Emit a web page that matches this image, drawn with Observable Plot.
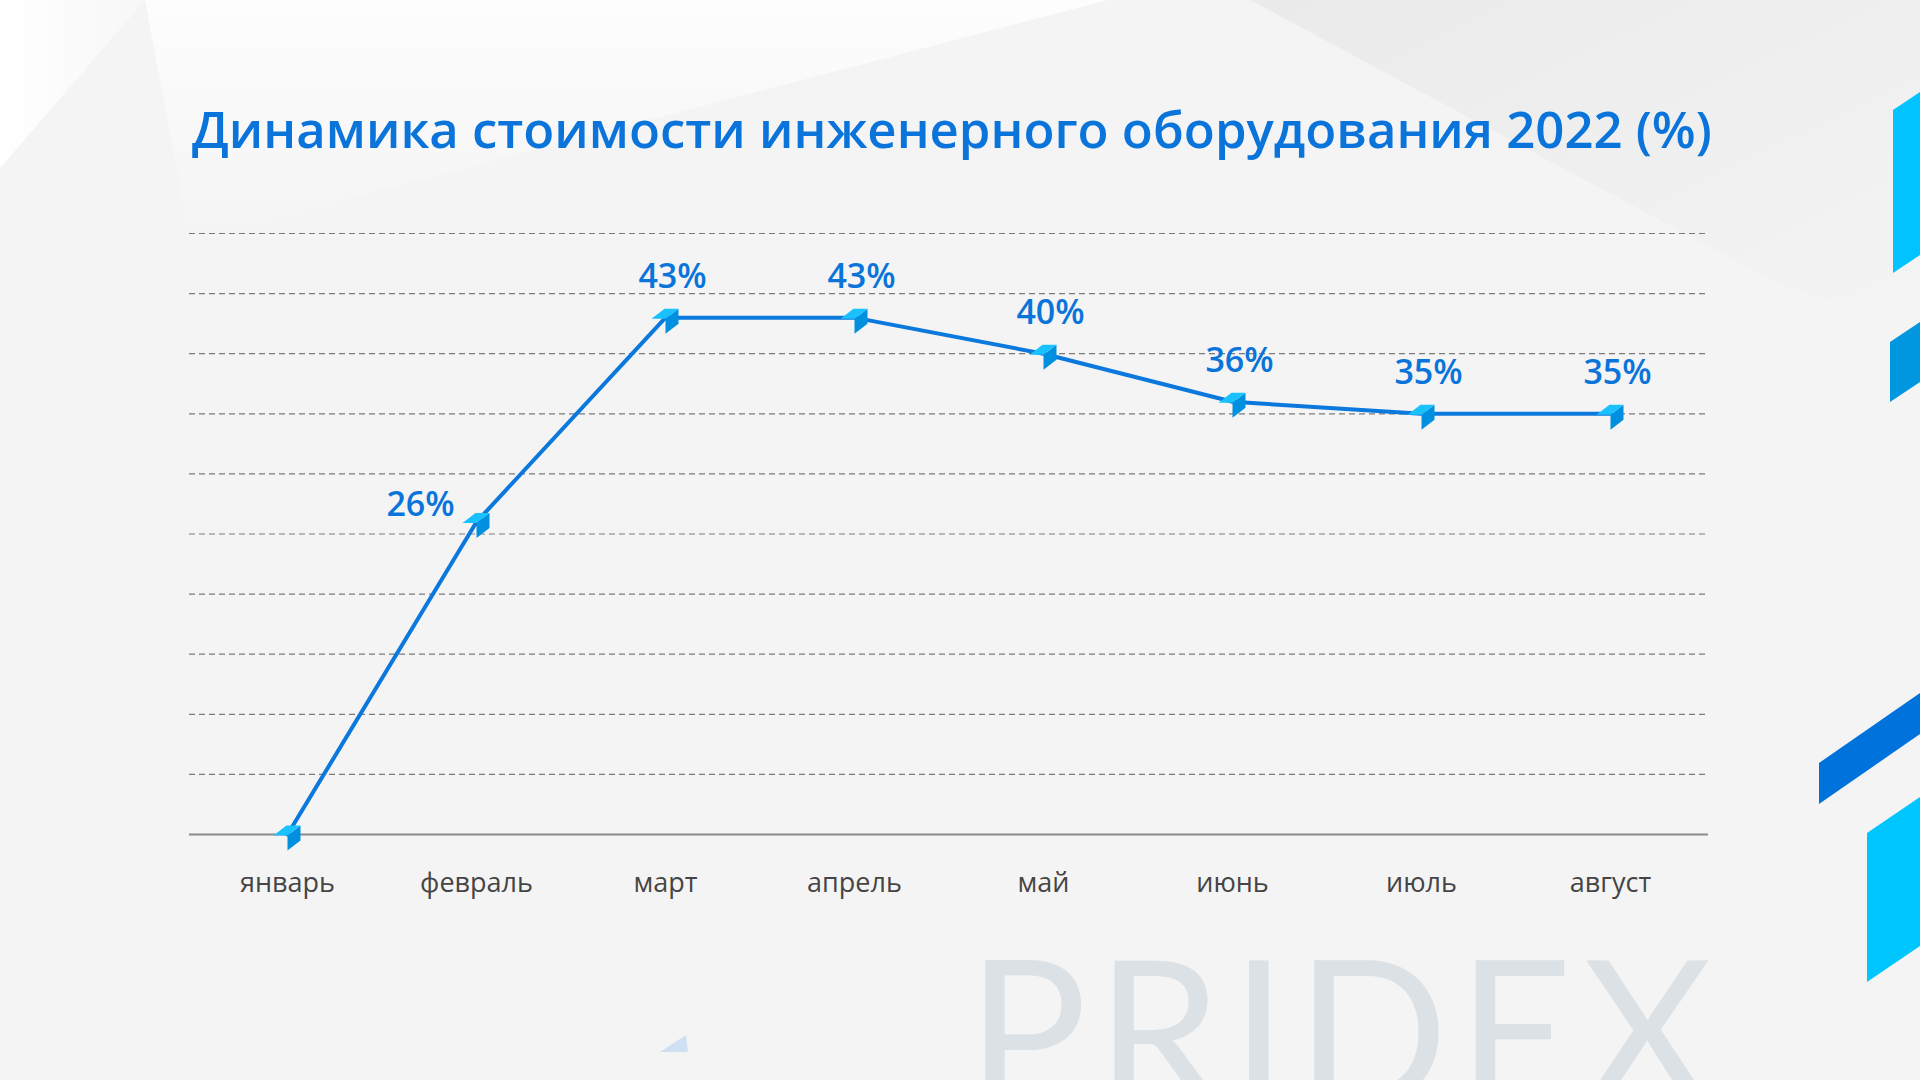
<!DOCTYPE html>
<html>
<head>
<meta charset="utf-8">
<script src="https://cdn.jsdelivr.net/npm/d3@7"></script>
<script src="https://cdn.jsdelivr.net/npm/@observablehq/plot@0.6"></script>
<style>
  html, body { margin: 0; padding: 0; }
  body { width: 1920px; height: 1080px; overflow: hidden; background: #f4f4f4; position: relative; font-family: "Open Sans", sans-serif; }
  #bg { position: absolute; left: 0; top: 0; }
  #title { position: absolute; left: 192px; top: 97px; margin: 0; font: 600 58px "Open Sans", sans-serif; line-height: 1; color: #0a74da; white-space: nowrap; display: inline-block; }
  #chart { position: absolute; left: 0; top: 180px; }
</style>
</head>
<body>
<svg id="bg" width="1920" height="1080" viewBox="0 0 1920 1080">
  <defs>
    <linearGradient id="gl" x1="0" y1="0" x2="0" y2="1">
      <stop offset="0" stop-color="#ffffff" stop-opacity="0.85"/>
      <stop offset="1" stop-color="#ffffff" stop-opacity="0"/>
    </linearGradient>
    <linearGradient id="gd" x1="0" y1="0" x2="1" y2="1">
      <stop offset="0" stop-color="#e9e9e9" stop-opacity="0.9"/>
      <stop offset="1" stop-color="#e9e9e9" stop-opacity="0"/>
    </linearGradient>
    <linearGradient id="gc" x1="0" y1="0" x2="1" y2="0">
      <stop offset="0" stop-color="#ffffff" stop-opacity="1"/>
      <stop offset="1" stop-color="#ffffff" stop-opacity="0.3"/>
    </linearGradient>
  </defs>
  <polygon points="145,0 1108,0 190,240" fill="url(#gl)"/>
  <polygon points="1250,0 1920,0 1920,330 1775,282" fill="url(#gd)"/>
  <polygon points="0,0 145,0 0,168" fill="url(#gc)"/>
  <polygon points="1893,110 1920,92 1920,255 1893,273" fill="#00c3ff"/>
  <polygon points="1890,342 1920,322 1920,382 1890,402" fill="#0096e0"/>
  <polygon points="1819,763 1920,693 1920,734 1819,804" fill="#0072dc"/>
  <polygon points="1867,833 1920,797 1920,946 1867,982" fill="#00c6ff"/>
  <polygon points="660,1052 686,1035 688,1052" fill="#cfe0f3"/>
  <text id="wm" x="967" y="1104" font-family="Lato, 'Open Sans', sans-serif" font-weight="400" font-size="200" fill="#dce1e6">PRIDEX</text>
</svg>
<div id="title">Динамика стоимости инженерного оборудования 2022 (%)</div>
<div id="chart"></div>
<script>
const months = ["январь", "февраль", "март", "апрель", "май", "июнь", "июль", "август"];
const values = [0, 26, 43, 43, 40, 36, 35, 35];
const gridValues = [5, 10, 15, 20, 25, 30, 35, 40, 45, 50];

const data = months.map((m, i) => ({month: m, value: values[i]}));

const cubeTop = {draw(ctx) { ctx.moveTo(-14, 1); ctx.lineTo(-1, -9); ctx.lineTo(13, -9); ctx.lineTo(0, 1); ctx.closePath(); }};
const cubeSide = {draw(ctx) { ctx.moveTo(0, 1); ctx.lineTo(13, -9); ctx.lineTo(13, 6); ctx.lineTo(0, 16); ctx.closePath(); }};

const blue = "#0a74da";

const chart = Plot.plot({
  width: 1920,
  height: 760,
  marginLeft: 189,
  marginRight: 212,
  marginTop: 53,
  marginBottom: 106,
  style: {background: "transparent", fontFamily: "'Open Sans', sans-serif", overflow: "visible"},
  x: {type: "point", domain: months, padding: 0.5, label: null},
  y: {domain: [0, 50], axis: null},
  marks: [
    Plot.ruleY(gridValues, {stroke: "#7a7a7a", strokeWidth: 1.2, strokeDasharray: "6,4"}),
    Plot.ruleY([0], {stroke: "#8a8a8a", strokeWidth: 2}),
    Plot.axisX({tickSize: 0, tickPadding: 38, fontSize: 27, fill: "#454545", label: null}),
    Plot.line(data, {x: "month", y: "value", stroke: "#0a78dc", strokeWidth: 4}),
    Plot.dot(data, {x: "month", y: "value", symbol: cubeSide, r: 5, fill: "#0090df", stroke: null}),
    Plot.dot(data, {x: "month", y: "value", symbol: cubeTop, r: 5, fill: "#19c1ff", stroke: null}),
    Plot.text(data.filter(d => d.value > 0 && d.month !== "февраль"), {x: "month", y: "value", text: d => d.value + "%", dx: 7, dy: -41, fontSize: 34, fontWeight: 600, fill: blue}),
    Plot.text(data.filter(d => d.month === "февраль"), {x: "month", y: "value", text: d => d.value + "%", dx: -56, dy: -17, fontSize: 34, fontWeight: 600, fill: blue})
  ]
});
document.getElementById("chart").appendChild(chart);

// fit title width
const t = document.getElementById("title");
const w = t.getBoundingClientRect().width;
const fs = 58 * 1520 / w;
t.style.fontSize = fs + "px";
t.style.top = (149 - 0.888 * fs) + "px";

// fit watermark width
const wm = document.getElementById("wm");
const ww = wm.getComputedTextLength();
wm.setAttribute("letter-spacing", ((745 - ww) / 5) + "");
</script>
</body>
</html>
